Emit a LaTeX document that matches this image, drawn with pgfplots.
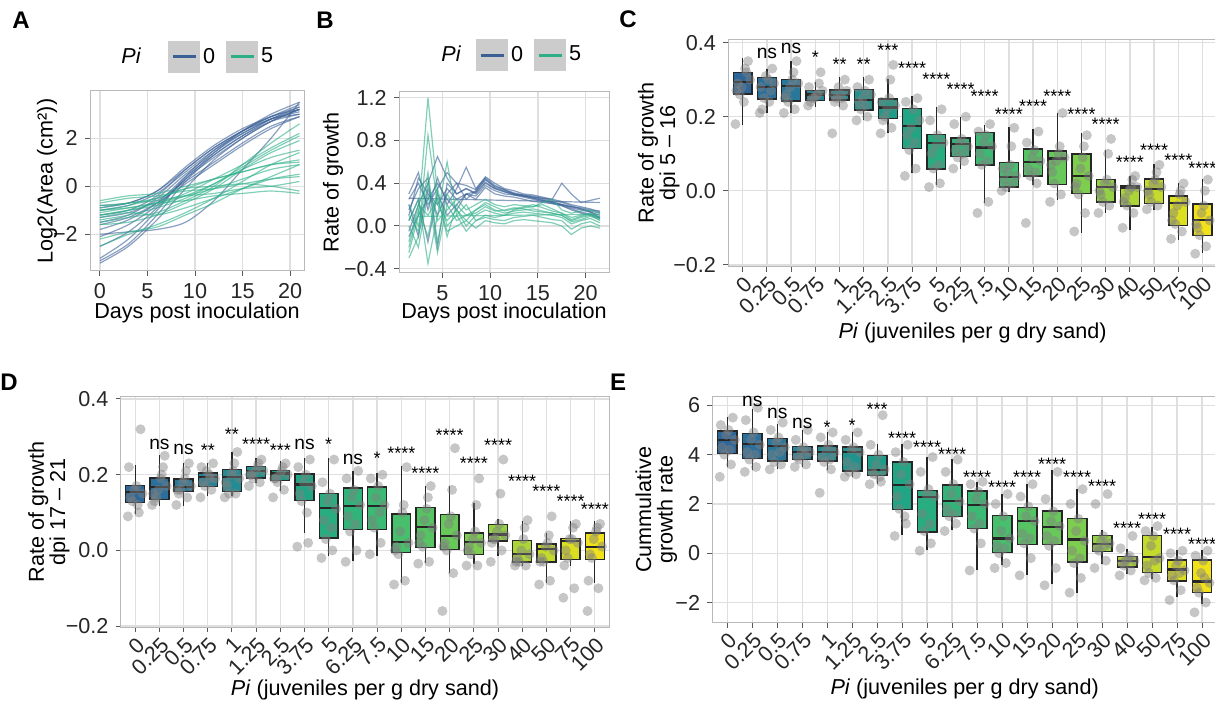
\documentclass[border=0pt]{standalone}
\usepackage{fontspec}
\setmainfont{Liberation Sans}
\usepackage{pgfplots}
\pgfplotsset{compat=1.18}
\usepackage{pgfplotstable}
\usepgfplotslibrary{statistics}

% fills for the 20 Pi levels (blue -> yellow)
\definecolor{c0}{HTML}{2D6699}\definecolor{c1}{HTML}{2B6F9C}
\definecolor{c2}{HTML}{29789C}\definecolor{c3}{HTML}{258397}
\definecolor{c4}{HTML}{218C93}\definecolor{c5}{HTML}{1F948E}
\definecolor{c6}{HTML}{1E9C89}\definecolor{c7}{HTML}{21A584}
\definecolor{c8}{HTML}{27AD7F}\definecolor{c9}{HTML}{30B47A}
\definecolor{c10}{HTML}{3BBA73}\definecolor{c11}{HTML}{47BF6C}
\definecolor{c12}{HTML}{56C463}\definecolor{c13}{HTML}{68C95A}
\definecolor{c14}{HTML}{7DCD4F}\definecolor{c15}{HTML}{94D144}
\definecolor{c16}{HTML}{ACD538}\definecolor{c17}{HTML}{C4DA2C}
\definecolor{c18}{HTML}{DCDE20}\definecolor{c19}{HTML}{F0E11A}
\definecolor{lblue}{HTML}{3A6096}
\definecolor{lteal}{HTML}{2EAF88}

\newcommand{\myfs}{\fontsize{10.8}{12}\selectfont}

\pgfplotsset{
  gg/.style={
    scale only axis, anchor=south west,
    /pgf/number format/assume math mode=true,
    axis line style={draw=gray!55, line width=0.5pt},
    grid=major,
    major grid style={draw=gray!25, line width=0.7pt},
    tick align=outside, tick pos=left,
    major tick length=2.6pt,
    tick style={draw=black!65, line width=0.5pt},
    tick label style={font=\myfs, text=black!85},
    label style={font=\myfs},
  },
  boxax/.style={gg,
    xmin=-0.6, xmax=19.6, xtick={0,...,19},
    xticklabels={0,0.25,0.5,0.75,1,1.25,2.5,3.75,5,6.25,7.5,10,15,20,25,30,40,50,75,100},
    xticklabel style={rotate=45, anchor=north east, inner sep=1pt},
    xlabel={\textit{Pi} (juveniles per g dry sand)},
    ylabel style={align=center, font=\fontsize{10.8}{10.7}\selectfont},
    boxplot/every median/.style={line width=1.1pt},
  },
  spag/.style={line width=0.6pt, draw opacity=0.6, forget plot},
  jitpts/.style={only marks, mark=*, mark size=2.5pt, draw=none, fill=gray,
    fill opacity=0.45, draw opacity=0,
    mark options={draw=none, fill=gray, fill opacity=0.45, draw opacity=0}},
  stars/.style={only marks, mark=*, mark size=0pt, mark options={draw=none, fill=none},
    point meta=explicit symbolic, nodes near coords,
    every node near coord/.append style={anchor=center, inner sep=0pt, yshift=-2pt,
      font=\fontsize{9}{9}\selectfont}},
  nslab/.style={stars, every node near coord/.append style={yshift=2pt,
      font=\fontsize{9.6}{9.6}\selectfont}},
  keyimg/.style={line width=1.5pt, legend image code/.code={
      \fill[black!20] (0pt,-7.25pt) rectangle (14.5pt,7.25pt);
      \draw (1.5pt,0pt) -- (13pt,0pt);}},
  keylegend/.style={legend columns=-1, legend style={draw=none, fill=none, inner sep=0pt,
      font=\myfs, nodes={inner sep=1.5pt},
      /tikz/every even column/.append style={column sep=4pt}}},
}

% box: position, median, q1, q3, lower whisker, upper whisker
\newcommand{\bx}[6]{\addplot[boxplot prepared={draw direction=y, draw position=#1,
  median=#2, lower quartile=#3, upper quartile=#4, lower whisker=#5, upper whisker=#6,
  box extend=0.78, whisker extend=0}, draw=black!85, line width=0.7pt, fill=c#1]
  coordinates {};}

\expandafter\def\csname dx1\endcsname{-0.3}
\expandafter\def\csname dx2\endcsname{0.22}
\expandafter\def\csname dx3\endcsname{-0.12}
\expandafter\def\csname dx4\endcsname{0.3}
\expandafter\def\csname dx5\endcsname{-0.2}
\expandafter\def\csname dx6\endcsname{0.05}
\expandafter\def\csname dx7\endcsname{0.15}
\expandafter\def\csname dx8\endcsname{-0.04}
\expandafter\def\csname dx9\endcsname{0.1}
\expandafter\def\csname dx10\endcsname{-0.26}

\begin{document}

% log2 area, one column per plant
\pgfplotstableread{
d b1 b2 b3 b4 b5 b6 b7 b8 b9 b10 b11 b12 b13 b14 t1 t2 t3 t4 t5 t6 t7 t8 t9 t10 t11 t12 t13 t14 t15
0 -3.1 -3.0 -2.1 -1.5 -1.0 -0.9 -1.3 -1.8 -2.5 -1.2 -2.0 -1.6 -3.2 -0.8 -0.6 -0.8 -1.0 -1.2 -1.4 -1.5 -0.7 -2.5 -1.1 -1.3 -0.9 -1.6 -2.2 -1.0 -1.2
3 -2.4 -2.2 -1.6 -1.2 -0.8 -0.7 -1.1 -1.4 -1.9 -1.0 -1.9 -1.3 -2.5 -0.7 -0.4 -0.7 -0.8 -1.0 -1.2 -1.3 -0.5 -2.0 -0.9 -1.1 -0.7 -1.5 -1.9 -0.9 -1.0
6 -1.2 -1.0 -0.8 -0.5 -0.3 -0.2 -0.6 -0.7 -0.9 -0.4 -1.8 -0.7 -1.4 -0.2 -0.3 -0.5 -0.5 -0.8 -0.9 -1.1 -0.4 -1.6 -0.7 -1.2 -0.6 -1.2 -1.7 -0.7 -0.7
9 0.2 0.4 0.3 0.5 0.6 0.8 0.2 0.4 0.3 0.7 -1.5 0.1 -0.1 0.7 0.0 -0.1 -0.1 -0.4 -0.5 -0.6 -0.2 -1.1 -0.4 -0.9 -0.4 -0.7 -1.2 -0.6 -0.3
12 1.3 1.5 1.2 1.4 1.5 1.7 1.0 1.3 1.4 1.6 -0.6 0.9 1.1 1.6 0.3 0.0 0.3 0.1 0.1 0.0 -0.1 -0.5 -0.1 -0.5 -0.3 -0.1 -0.7 -0.4 0.3
15 2.1 2.3 2.0 2.2 2.2 2.4 1.8 2.1 2.3 2.3 0.7 1.7 2.0 2.3 0.6 0.1 0.6 0.7 0.8 0.9 0.1 0.2 0.3 -0.1 -0.1 0.7 -0.1 -0.3 0.9
18 2.8 2.9 2.7 2.8 2.8 2.9 2.5 2.7 3.0 2.8 2.0 2.4 2.7 2.9 0.9 0.0 0.9 1.2 1.5 1.8 0.3 0.9 0.7 0.3 0.0 1.4 0.4 -0.2 1.6
21 3.3 3.4 3.2 3.2 3.1 3.3 2.9 3.0 3.5 3.0 3.5 2.9 3.2 3.2 1.0 -0.2 1.1 1.5 2.1 2.6 0.4 1.4 0.9 0.5 0.2 1.9 0.9 -0.3 2.2
}\tabA

% daily rate of growth
\pgfplotstableread{
x b1 b2 b3 b4 b5 b6 b7 b8 t1 t2 t3 t4 t5 t6 t7 t8
1.5 0.10 -0.05 0.20 0.30 0.05 0.15 -0.10 0.25 -0.25 -0.30 0.05 0.00 -0.15 0.10 -0.20 0.20
2.5 0.45 0.20 -0.10 0.50 0.25 0.35 0.10 0.40 0.10 -0.10 0.25 -0.20 0.20 -0.05 0.15 0.00
3.5 0.30 0.40 0.35 0.15 -0.15 0.45 0.25 0.20 1.20 0.85 -0.35 0.30 0.10 0.40 -0.10 0.50
4.5 0.20 0.65 0.10 0.45 0.30 -0.20 0.40 0.35 0.30 0.20 0.10 -0.25 0.25 0.05 0.35 -0.15
5.5 0.35 0.45 0.30 0.20 0.10 0.40 0.25 0.50 -0.10 0.05 0.60 0.20 -0.05 0.15 0.00 0.30
6.5 0.25 0.30 0.40 0.35 0.20 0.30 0.15 0.40 0.20 0.15 0.10 0.05 0.00 0.25 0.10 0.15
7.5 0.30 0.35 0.25 0.55 0.30 0.35 0.30 0.38 0.10 0.00 0.20 0.10 0.05 0.15 -0.05 0.05
8.5 0.32 0.30 0.33 0.35 0.28 0.31 0.25 0.34 0.15 0.10 0.05 0.12 -0.02 0.20 0.05 0.15
9.5 0.44 0.40 0.43 0.45 0.38 0.41 0.36 0.46 0.20 0.15 0.10 0.18 0.05 0.25 0.08 0.22
10.5 0.36 0.35 0.37 0.38 0.33 0.35 0.30 0.40 0.15 0.12 0.08 0.14 0.03 0.20 0.06 0.18
11.5 0.33 0.32 0.34 0.34 0.30 0.32 0.28 0.35 0.12 0.10 0.10 0.15 0.02 0.18 0.05 0.14
12.5 0.30 0.29 0.31 0.30 0.29 0.30 0.27 0.33 0.14 0.12 0.15 0.17 0.05 0.20 0.08 0.16
13.5 0.28 0.28 0.29 0.29 0.27 0.28 0.25 0.30 0.15 0.13 0.17 0.16 0.06 0.19 0.09 0.18
14.5 0.27 0.26 0.27 0.28 0.25 0.26 0.23 0.29 0.16 0.12 0.18 0.14 0.05 0.18 0.10 0.20
15.5 0.25 0.24 0.26 0.26 0.23 0.24 0.22 0.27 0.14 0.11 0.20 0.13 0.04 0.22 0.08 0.17
16.5 0.23 0.22 0.24 0.25 0.21 0.22 0.21 0.25 0.12 0.10 0.16 0.12 0.03 0.25 0.06 0.14
17.5 0.20 0.20 0.22 0.40 0.19 0.20 0.19 0.23 0.10 0.08 0.12 0.10 0.00 0.15 0.05 0.12
18.5 0.17 0.18 0.19 0.30 0.16 0.18 0.15 0.20 0.05 0.02 0.08 0.04 -0.08 0.12 -0.03 0.06
19.5 0.15 0.16 0.16 0.22 0.13 0.17 0.12 0.18 0.08 0.05 0.10 0.06 -0.02 0.14 0.02 0.09
20.5 0.13 0.14 0.13 0.24 0.11 0.15 0.10 0.16 0.10 0.07 0.12 0.09 0.00 0.15 0.04 0.11
21.5 0.10 0.12 0.08 0.26 0.08 0.14 0.07 0.13 0.05 0.03 0.08 0.06 -0.02 0.12 0.00 0.07
}\tabB

\pgfplotstableread{
i y1 y2 y3 y4 y5 y6 y7 y8 y9 y10
0 0.18 0.35 0.26 0.30 0.29 0.24 0.32 0.28 0.33 0.27
1 0.21 0.33 0.25 0.29 0.22 0.30 0.27 0.31 0.24 0.28
2 0.21 0.35 0.24 0.29 0.26 0.30 0.22 0.28 0.32 0.25
3 0.23 0.32 0.25 0.27 0.24 0.26 0.29 0.25 0.26 0.28
4 0.155 0.30 0.25 0.27 0.24 0.26 0.23 0.28 0.25 0.26
5 0.19 0.30 0.22 0.26 0.24 0.27 0.20 0.25 0.23 0.28
6 0.155 0.34 0.20 0.23 0.19 0.25 0.17 0.22 0.30 0.24
7 0.04 0.25 0.11 0.19 0.15 0.22 0.06 0.17 0.13 0.24
8 0.01 0.22 0.06 0.13 0.10 0.15 0.02 0.12 0.07 0.19
9 0.06 0.20 0.09 0.12 0.11 0.14 0.08 0.13 0.10 0.18
10 -0.06 0.18 0.07 0.12 0.10 0.15 -0.03 0.13 0.08 0.16
11 0.00 0.17 0.01 0.04 0.03 0.07 0.02 0.05 0.12 0.06
12 -0.087 0.16 0.04 0.08 0.06 0.11 0.02 0.09 0.05 0.13
13 -0.03 0.21 0.02 0.09 0.05 0.10 -0.01 0.08 0.12 0.07
14 -0.11 0.15 -0.01 0.04 0.02 0.09 -0.06 0.06 0.12 0.01
15 -0.06 0.14 -0.03 0.01 -0.01 0.03 -0.04 0.02 0.10 0.00
16 -0.10 0.04 -0.04 0.01 -0.02 0.01 -0.06 0.00 0.03 -0.03
17 -0.05 0.07 -0.03 0.01 -0.01 0.03 -0.04 0.02 0.05 0.00
18 -0.13 0.02 -0.09 -0.03 -0.06 -0.01 -0.11 -0.04 0.00 -0.08
19 -0.17 0.03 -0.12 -0.08 -0.10 -0.04 -0.15 -0.06 0.00 -0.09
}\ptsC

\pgfplotstableread{
i y1 y2 y3 y4 y5 y6 y7 y8 y9 y10
0 0.09 0.32 0.13 0.15 0.14 0.17 0.10 0.16 0.12 0.22
1 0.12 0.25 0.14 0.17 0.13 0.19 0.22 0.16 0.20 0.15
2 0.12 0.23 0.16 0.17 0.15 0.19 0.14 0.18 0.21 0.16
3 0.14 0.23 0.17 0.19 0.18 0.20 0.16 0.21 0.19 0.22
4 0.14 0.26 0.15 0.19 0.17 0.21 0.15 0.20 0.23 0.18
5 0.17 0.24 0.19 0.21 0.20 0.22 0.18 0.21 0.23 0.20
6 0.14 0.23 0.18 0.20 0.19 0.21 0.16 0.20 0.22 0.19
7 0.01 0.24 0.13 0.17 0.15 0.20 0.02 0.18 0.10 0.22
8 -0.02 0.24 0.03 0.11 0.08 0.15 0.00 0.13 0.06 0.18
9 -0.03 0.21 0.05 0.12 0.09 0.16 0.00 0.14 0.07 0.19
10 -0.01 0.20 0.06 0.12 0.08 0.17 0.02 0.14 0.10 0.19
11 -0.09 0.22 -0.01 0.02 0.01 0.10 -0.08 0.05 0.12 0.00
12 -0.035 0.17 0.01 0.06 0.04 0.11 -0.03 0.08 0.14 0.02
13 -0.16 0.27 0.00 0.04 0.02 0.09 -0.06 0.07 0.16 0.01
14 -0.04 0.19 -0.01 0.02 0.01 0.05 -0.04 0.03 0.12 0.00
15 -0.03 0.24 0.03 0.04 0.03 0.07 0.00 0.05 0.15 0.02
16 -0.04 0.08 -0.03 -0.01 -0.02 0.03 -0.04 0.00 0.06 -0.03
17 -0.09 0.09 -0.03 0.00 -0.02 0.02 -0.08 0.01 0.04 -0.03
18 -0.125 0.07 -0.02 0.02 0.00 0.03 -0.10 0.03 0.06 -0.04
19 -0.16 0.07 -0.02 0.01 -0.01 0.05 -0.10 0.03 0.06 -0.08
}\ptsD

\pgfplotstableread{
i y1 y2 y3 y4 y5 y6 y7 y8 y9 y10
0 3.1 5.5 4.0 4.6 4.3 5.0 3.6 4.8 4.2 5.2
1 3.3 5.9 3.8 4.4 4.1 4.9 3.5 4.6 4.0 5.4
2 3.4 5.3 3.7 4.3 4.0 4.7 3.6 4.5 4.1 5.0
3 3.5 5.0 3.8 4.1 3.9 4.3 3.6 4.2 4.0 4.6
4 2.45 4.9 3.7 4.1 3.9 4.4 3.4 4.2 3.8 4.7
5 3.1 4.9 3.3 4.1 3.7 4.3 3.2 4.2 3.5 4.6
6 2.8 5.6 3.2 3.4 3.3 4.0 2.9 3.6 3.1 4.4
7 0.7 4.4 1.8 2.8 2.3 3.7 1.2 3.2 1.5 4.1
8 0.1 3.9 0.9 2.3 1.6 2.6 0.4 2.4 1.2 3.3
9 0.9 3.8 1.5 2.1 1.8 2.8 1.2 2.4 1.6 3.3
10 -0.7 2.9 1.0 2.0 1.5 2.5 0.4 2.2 1.2 2.8
11 -0.6 2.4 0.0 0.6 0.3 1.5 -0.4 0.9 0.2 2.0
12 -0.9 2.8 0.4 1.3 0.8 1.9 -0.2 1.5 0.6 2.3
13 -1.3 3.3 0.3 1.1 0.7 1.7 -0.6 1.3 0.5 2.2
14 -1.6 2.6 -0.4 0.5 0.1 1.4 -1.0 0.9 -0.2 2.0
15 -0.6 2.4 0.1 0.4 0.2 0.7 -0.3 0.5 0.3 2.0
16 -0.9 0.7 -0.5 -0.3 -0.4 -0.2 -0.7 -0.3 -0.1 0.2
17 -1.1 1.1 -0.8 -0.2 -0.5 0.7 -1.0 0.3 -0.3 0.9
18 -1.9 0.1 -1.1 -0.7 -0.9 -0.3 -1.5 -0.5 -0.8 0.0
19 -2.4 0.1 -1.6 -1.2 -1.4 -0.3 -2.0 -0.8 -1.0 -0.1
}\ptsE

\begin{tikzpicture}
\useasboundingbox (0,0) rectangle (607.5pt,350.5pt);

% ---------- A
\begin{axis}[gg, keylegend, at={(45pt,215pt)}, width=107pt, height=90.15pt,
  xmin=-1.05, xmax=21.47, ymin=-3.53, ymax=3.98,
  xtick={0,5,10,15,20}, ytick={-2,0,2}, yticklabels={−2,0,2},
  xlabel={Days post inoculation}, ylabel={Log2(Area (cm²))},
  xlabel style={at={(axis description cs:0.5,-0.232)}, anchor=center},
  ylabel style={at={(axis description cs:-0.201,0.5)}, anchor=center},
  legend style={at={(axis description cs:0.131,1.187)}, anchor=west}]
\pgfplotsinvokeforeach{1,...,14}{\addplot[spag, lblue, smooth] table[x=d, y=b#1] {\tabA};}
\pgfplotsinvokeforeach{1,...,15}{\addplot[spag, lteal, smooth] table[x=d, y=t#1] {\tabA};}
\addlegendimage{empty legend}\addlegendentry{\textit{Pi}\hspace*{8pt}}
\addlegendimage{keyimg, lblue}\addlegendentry{0}
\addlegendimage{keyimg, lteal}\addlegendentry{5}
\end{axis}

% ---------- B
\begin{axis}[gg, keylegend, at={(199.5pt,214pt)}, width=105pt, height=90.65pt,
  xmin=0.47, xmax=22.44, ymin=-0.44, ymax=1.257,
  xtick={5,10,15,20}, ytick={-0.4,0,0.4,0.8,1.2}, yticklabels={−0.4,0.0,0.4,0.8,1.2},
  xlabel={Days post inoculation}, ylabel={Rate of growth},
  xlabel style={at={(axis description cs:0.5,-0.22)}, anchor=center},
  ylabel style={at={(axis description cs:-0.314,0.5)}, anchor=center},
  legend style={at={(axis description cs:0.186,1.202)}, anchor=west}]
\pgfplotsinvokeforeach{1,...,8}{\addplot[spag, lblue] table[x=x, y=b#1] {\tabB};}
\addplot[spag, lblue] coordinates {(1.5,0.26) (21.5,0.22)};
\pgfplotsinvokeforeach{1,...,8}{\addplot[spag, lteal] table[x=x, y=t#1] {\tabB};}
\addplot[spag, lteal] coordinates {(2.5,0.09) (21.5,0.11)};
\addlegendimage{empty legend}\addlegendentry{\textit{Pi}\hspace*{2pt}}
\addlegendimage{keyimg, lblue}\addlegendentry{0}
\addlegendimage{keyimg, lteal}\addlegendentry{5}
\end{axis}

% ---------- C
\begin{axis}[boxax, at={(364.1pt,217.15pt)}, width=244.4pt, height=113.7pt,
  ymin=-0.205, ymax=0.409, ytick={-0.2,0,0.2,0.4}, yticklabels={−0.2,0.0,0.2,0.4},
  ylabel={Rate of growth\\dpi 5 -- 16},
  xlabel style={at={(axis description cs:0.5,-0.292)}, anchor=center},
  ylabel style={at={(axis description cs:-0.142,0.5)}, anchor=center}]
\bx{0}{0.293}{0.261}{0.319}{0.177}{0.358}
\bx{1}{0.281}{0.248}{0.306}{0.21}{0.33}
\bx{2}{0.283}{0.242}{0.301}{0.209}{0.35}
\bx{3}{0.26}{0.243}{0.27}{0.227}{0.295}
\bx{4}{0.259}{0.245}{0.272}{0.227}{0.308}
\bx{5}{0.245}{0.218}{0.274}{0.191}{0.306}
\bx{6}{0.225}{0.195}{0.248}{0.155}{0.302}
\bx{7}{0.175}{0.114}{0.222}{0.047}{0.256}
\bx{8}{0.128}{0.059}{0.152}{0.015}{0.227}
\bx{9}{0.126}{0.092}{0.143}{0.06}{0.2}
\bx{10}{0.117}{0.07}{0.157}{-0.034}{0.177}
\bx{11}{0.038}{0.01}{0.077}{-0.003}{0.173}
\bx{12}{0.077}{0.04}{0.113}{0.015}{0.168}
\bx{13}{0.087}{0.017}{0.107}{-0.025}{0.21}
\bx{14}{0.04}{-0.007}{0.099}{-0.115}{0.155}
\bx{15}{0.011}{-0.03}{0.031}{-0.061}{0.11}
\bx{16}{0.008}{-0.041}{0.013}{-0.106}{0.04}
\bx{17}{0.005}{-0.035}{0.032}{-0.052}{0.071}
\bx{18}{-0.034}{-0.093}{-0.014}{-0.133}{0.02}
\bx{19}{-0.079}{-0.12}{-0.036}{-0.169}{0.033}
\pgfplotsinvokeforeach{1,...,10}{\addplot[jitpts] table[x expr=\thisrow{i}+\csname dx#1\endcsname, y=y#1] {\ptsC};}
\addplot[nslab] table[meta=l] {
x y l
1 0.371 ns
2 0.385 ns
};
\addplot[stars] table[meta=l] {
x y l
3 0.371 *
4 0.353 **
5 0.353 **
6 0.389 ***
7 0.341 ****
8 0.313 ****
9 0.286 ****
10 0.265 ****
11 0.218 ****
12 0.238 ****
13 0.265 ****
14 0.216 ****
15 0.189 ****
16 0.087 ****
17 0.119 ****
18 0.092 ****
19 0.071 ****
};
\end{axis}

% ---------- D
\begin{axis}[boxax, at={(60.35pt,36.85pt)}, width=244.3pt, height=115.3pt,
  ymin=-0.203, ymax=0.406, ytick={-0.2,0,0.2,0.4}, yticklabels={−0.2,0.0,0.2,0.4},
  ylabel={Rate of growth\\dpi 17 -- 21},
  xlabel style={at={(axis description cs:0.5,-0.272)}, anchor=center},
  ylabel style={at={(axis description cs:-0.147,0.5)}, anchor=center}]
\bx{0}{0.154}{0.127}{0.171}{0.095}{0.226}
\bx{1}{0.167}{0.134}{0.191}{0.117}{0.253}
\bx{2}{0.168}{0.156}{0.189}{0.117}{0.231}
\bx{3}{0.194}{0.169}{0.204}{0.143}{0.231}
\bx{4}{0.194}{0.156}{0.213}{0.143}{0.261}
\bx{5}{0.209}{0.191}{0.222}{0.178}{0.244}
\bx{6}{0.203}{0.185}{0.211}{0.156}{0.235}
\bx{7}{0.174}{0.132}{0.202}{0.046}{0.244}
\bx{8}{0.112}{0.033}{0.15}{-0.015}{0.244}
\bx{9}{0.118}{0.055}{0.165}{-0.028}{0.209}
\bx{10}{0.118}{0.055}{0.168}{-0.015}{0.204}
\bx{11}{0.023}{-0.006}{0.096}{-0.085}{0.222}
\bx{12}{0.062}{0.007}{0.114}{-0.032}{0.169}
\bx{13}{0.039}{0.003}{0.095}{-0.059}{0.169}
\bx{14}{0.023}{-0.011}{0.046}{-0.037}{0.125}
\bx{15}{0.042}{0.025}{0.068}{-0.015}{0.082}
\bx{16}{-0.009}{-0.031}{0.026}{-0.041}{0.077}
\bx{17}{0.004}{-0.031}{0.017}{-0.085}{0.046}
\bx{18}{0.024}{-0.024}{0.032}{-0.041}{0.077}
\bx{19}{0.01}{-0.024}{0.046}{-0.085}{0.077}
\pgfplotsinvokeforeach{1,...,10}{\addplot[jitpts] table[x expr=\thisrow{i}+\csname dx#1\endcsname, y=y#1] {\ptsD};}
\addplot[nslab] table[meta=l] {
x y l
1 0.279 ns
2 0.266 ns
7 0.279 ns
9 0.24 ns
};
\addplot[stars] table[meta=l] {
x y l
3 0.275 **
4 0.317 **
5 0.292 ****
6 0.275 ***
8 0.291 *
10 0.255 *
11 0.266 ****
12 0.213 ****
13 0.315 ****
14 0.241 ****
15 0.288 ****
16 0.194 ****
17 0.167 ****
18 0.141 ****
19 0.12 ****
};
\end{axis}

% ---------- E
\begin{axis}[boxax, at={(356.15pt,39pt)}, width=252.35pt, height=113.15pt,
  ymin=-2.83, ymax=6.35, ytick={-2,0,2,4,6}, yticklabels={−2,0,2,4,6},
  ylabel={Cummulative\\growth rate},
  xlabel style={at={(axis description cs:0.5,-0.292)}, anchor=center},
  ylabel style={at={(axis description cs:-0.111,0.5)}, anchor=center}]
\bx{0}{4.58}{4.04}{4.96}{3.5}{5.53}
\bx{1}{4.42}{3.84}{4.85}{3.36}{5.86}
\bx{2}{4.34}{3.74}{4.65}{3.43}{5.26}
\bx{3}{4.11}{3.8}{4.34}{3.5}{4.99}
\bx{4}{4.11}{3.74}{4.35}{3.36}{4.92}
\bx{5}{4.11}{3.34}{4.31}{3.09}{4.92}
\bx{6}{3.39}{3.16}{3.97}{2.82}{4.45}
\bx{7}{2.78}{1.77}{3.7}{0.73}{4.45}
\bx{8}{2.28}{0.86}{2.55}{0.12}{3.9}
\bx{9}{2.11}{1.5}{2.76}{0.93}{3.84}
\bx{10}{1.95}{1.0}{2.53}{-0.69}{2.89}
\bx{11}{0.6}{0.02}{1.52}{-0.49}{2.42}
\bx{12}{1.31}{0.36}{1.86}{-0.89}{2.82}
\bx{13}{1.07}{0.36}{1.71}{-1.23}{3.36}
\bx{14}{0.56}{-0.36}{1.41}{-1.61}{2.62}
\bx{15}{0.36}{0.08}{0.71}{-0.42}{0.93}
\bx{16}{-0.33}{-0.56}{-0.14}{-0.85}{0.16}
\bx{17}{-0.14}{-0.77}{0.72}{-1.03}{1.07}
\bx{18}{-0.66}{-1.12}{-0.28}{-1.77}{0.12}
\bx{19}{-1.15}{-1.6}{-0.27}{-2.04}{0.12}
\pgfplotsinvokeforeach{1,...,10}{\addplot[jitpts] table[x expr=\thisrow{i}+\csname dx#1\endcsname, y=y#1] {\ptsE};}
\addplot[nslab] table[meta=l] {
x y l
1 6.14 ns
2 5.66 ns
3 5.28 ns
};
\addplot[stars] table[meta=l] {
x y l
4 5.26 *
5 5.36 *
6 6.0 ***
7 4.82 ****
8 4.47 ****
9 4.18 ****
10 3.23 ****
11 2.85 ****
12 3.23 ****
13 3.77 ****
14 3.23 ****
15 2.87 ****
16 1.18 ****
17 1.55 ****
18 0.94 ****
19 0.54 ****
};
\end{axis}

% panel letters
\node[font=\bfseries\fontsize{12}{12}\selectfont] at (10.5pt,340.5pt) {A};
\node[font=\bfseries\fontsize{12}{12}\selectfont] at (162.5pt,340.5pt) {B};
\node[font=\bfseries\fontsize{12}{12}\selectfont] at (314pt,341pt) {C};
\node[font=\bfseries\fontsize{12}{12}\selectfont] at (4.5pt,159.5pt) {D};
\node[font=\bfseries\fontsize{12}{12}\selectfont] at (309pt,159.5pt) {E};
\end{tikzpicture}
\end{document}
